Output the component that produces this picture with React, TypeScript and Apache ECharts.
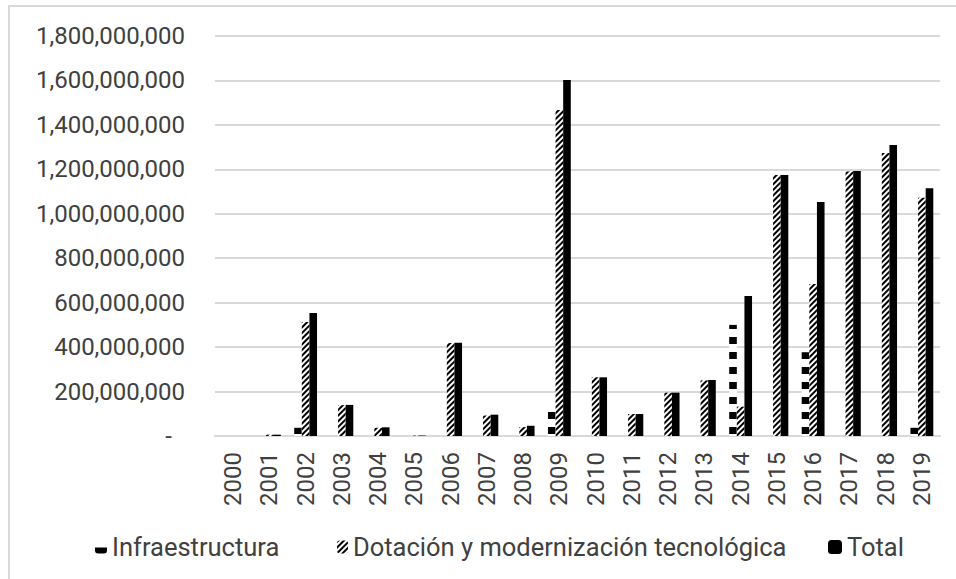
import React, { useEffect, useRef } from "react";
import * as echarts from "echarts";

const years = ["2000","2001","2002","2003","2004","2005","2006","2007","2008","2009","2010","2011","2012","2013","2014","2015","2016","2017","2018","2019"];
const infraestructura = [0, 0, 37e6, 0, 0, 0, 0, 0, 0, 135e6, 0, 0, 0, 0, 500e6, 0, 377e6, 0, 0, 37e6];
const dotacion = [0, 6e6, 513e6, 139e6, 37e6, 2e6, 418e6, 92e6, 40e6, 1467e6, 264e6, 99e6, 195e6, 250e6, 132e6, 1175e6, 684e6, 1190e6, 1273e6, 1072e6];
const total = [0, 6e6, 553e6, 140e6, 39e6, 2e6, 420e6, 96e6, 46e6, 1602e6, 264e6, 99e6, 195e6, 252e6, 630e6, 1175e6, 1053e6, 1192e6, 1310e6, 1115e6];
const seriesNames = ["Infraestructura", "Dotación y modernización tecnológica", "Total"];
const yMax = 1800000000;
const yStep = 200000000;

const FONT = "Roboto";
const TEXT = "#404040";

export default function App() {
  const ref = useRef<HTMLDivElement>(null);
  useEffect(() => {
    if (!ref.current) return;
    const chart = echarts.init(ref.current, null, { renderer: "svg" });
    const fmt = (v: number) =>
      v === 0 ? "{z|-}" : Math.round(v).toString().replace(/\B(?=(\d{3})+(?!\d))/g, ",");
    const legendBase = {
      orient: "horizontal",
      top: 529,
      itemHeight: 13,
      textStyle: { fontFamily: FONT, fontSize: 25.5, color: TEXT },
      selectedMode: false,
    };
    chart.setOption({
      animation: false,
      backgroundColor: "#fff",
      graphic: [
        {
          type: "rect",
          shape: { x: 9, y: 6, width: 1000, height: 1000 },
          style: { fill: "none", stroke: "#d9d9d9", lineWidth: 2 },
          silent: true,
        },
      ],
      grid: { left: 215, right: 16, top: 36, bottom: 143, containLabel: false },
      legend: [
        { ...legendBase, left: 90, itemWidth: 12, data: [seriesNames[0]] },
        { ...legendBase, left: 332, itemWidth: 11, data: [seriesNames[1]] },
        { ...legendBase, left: 823, itemWidth: 14, itemHeight: 14, data: [seriesNames[2]] },
      ],
      xAxis: {
        type: "category",
        data: years,
        axisLine: { show: true, lineStyle: { color: "#d9d9d9", width: 2 } },
        axisTick: { show: false },
        axisLabel: {
          rotate: 90,
          margin: 16,
          interval: 0,
          fontFamily: FONT,
          fontSize: 24,
          color: TEXT,
        },
      },
      yAxis: {
        type: "value",
        min: 0,
        max: yMax,
        interval: yStep,
        axisLine: { show: false },
        axisTick: { show: false },
        splitLine: { lineStyle: { color: "#d9d9d9", width: 2 } },
        axisLabel: {
          margin: 30,
          fontFamily: FONT,
          fontSize: 24,
          color: TEXT,
          formatter: fmt,
          rich: { z: { fontFamily: FONT, fontSize: 24, color: TEXT, padding: [0, 13, 0, 0] } },
        },
      },
      series: [
        {
          name: seriesNames[0],
          type: "bar",
          data: infraestructura,
          barGap: "0%",
          barCategoryGap: "37%",
          itemStyle: {
            color: "#fff",
            decal: {
              symbol: "rect",
              symbolSize: 1,
              color: "#000",
              dashArrayX: [[1, 0]],
              dashArrayY: [0, 7, 7, 1],
              rotation: 0,
            },
          },
        },
        {
          name: seriesNames[1],
          type: "bar",
          data: dotacion,
          barGap: "0%",
          barCategoryGap: "37%",
          itemStyle: {
            color: "#fff",
            decal: {
              symbol: "rect",
              symbolSize: 1,
              color: "#000",
              dashArrayX: [[1, 0]],
              dashArrayY: [2, 2],
              rotation: -Math.PI / 4,
            },
          },
        },
        {
          name: seriesNames[2],
          type: "bar",
          data: total,
          barGap: "0%",
          barCategoryGap: "37%",
          itemStyle: { color: "#000" },
        },
      ],
    });
    return () => chart.dispose();
  }, []);
  return (
    <div
      ref={ref}
      style={{ position: "fixed", left: 0, top: 0, width: 956, height: 579 }}
    />
  );
}
